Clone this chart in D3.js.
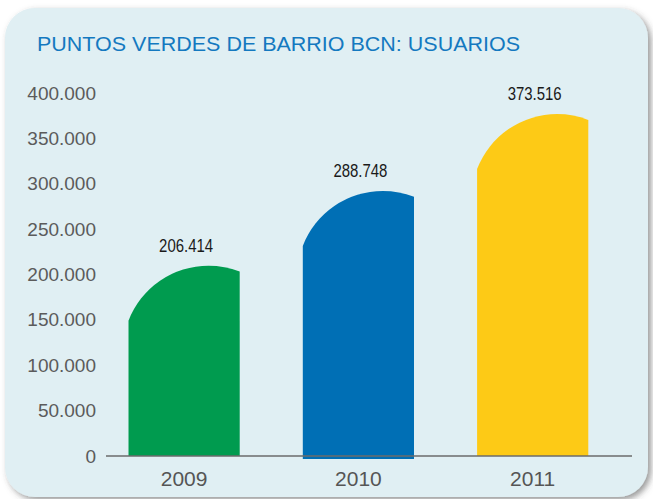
<!DOCTYPE html>
<html>
<head>
<meta charset="utf-8">
<script src="https://cdn.jsdelivr.net/npm/d3@7"></script>
<style>
  html, body { margin: 0; padding: 0; background: #fff; }
  svg { display: block; }
</style>
</head>
<body>
<div id="chart"></div>
<script>
// datos
const years = ['2009', '2010', '2011']
const usuarios = [206414, 288748, 373516]
const valueLabels = ['206.414', '288.748', '373.516']
const barColors = ['#009b4f', '#006fb5', '#fdca16']
const yTicks = [0, 50000, 100000, 150000, 200000, 250000, 300000, 350000, 400000]
const titleText = 'PUNTOS VERDES DE BARRIO BCN: USUARIOS'

const W = 653
const H = 499

const svg = d3.select('#chart')
  .append('svg')
  .attr('width', W)
  .attr('height', H)

// sombra del panel
const defs = svg.append('defs')
const f = defs.append('filter')
  .attr('id', 'shadow')
  .attr('x', '-5%').attr('y', '-5%')
  .attr('width', '110%').attr('height', '110%')
f.append('feDropShadow')
  .attr('dx', 3).attr('dy', 3)
  .attr('stdDeviation', 3)
  .attr('flood-color', '#444')
  .attr('flood-opacity', 0.55)

svg.append('rect')
  .attr('x', 5)
  .attr('y', 8)
  .attr('width', 643)
  .attr('height', 489)
  .attr('rx', 30)
  .attr('fill', '#e0eff3')
  .attr('filter', 'url(#shadow)')

// título (tipografía estrecha)
svg.append('text')
  .attr('x', 37)
  .attr('y', 51)
  .attr('fill', '#1479c0')
  .attr('textLength', 483)
  .attr('lengthAdjust', 'spacingAndGlyphs')
  .style('font-family', 'Liberation Sans, Arial, sans-serif')
  .style('font-size', '21px')
  .text(titleText)

// escalas
const y = d3.scaleLinear()
  .domain([0, 400000])
  .range([456, 93])

const x = d3.scaleBand()
  .domain(years)
  .range([95.4, 621.4])
  .paddingInner(0.362)
  .paddingOuter(0.19)

const fmt = d => d === 0 ? '0' : d3.format(',')(d).replace(/,/g, '.')

// eje Y (solo etiquetas)
const yAxis = svg.append('g')
  .attr('transform', 'translate(96,0)')
  .call(d3.axisLeft(y).tickValues(yTicks).tickFormat(fmt).tickSize(0).tickPadding(0))
yAxis.select('.domain').remove()
yAxis.selectAll('text')
  .attr('fill', '#5b5b5b')
  .style('font-family', 'Liberation Sans, Arial, sans-serif')
  .style('font-size', '19px')

// barras con tapa curva
const capDrop = 55
const bars = svg.append('g')
years.forEach((yr, i) => {
  const x0 = x(yr)
  const w = x.bandwidth()
  const x1 = x0 + w
  const xp = x0 + w * 0.72
  const yp = y(usuarios[i]) - 3
  const yl = yp + capDrop
  const dx = xp - x0
  const R = (dx * dx + capDrop * capDrop) / (2 * capDrop)
  const dr = x1 - xp
  const yRight = yp + R - Math.sqrt(R * R - dr * dr)
  const base = y(0) + (i === 1 ? 3 : 0)
  const p = `M${x0},${base} L${x0},${yl} A${R},${R} 0 0 1 ${xp},${yp} A${R},${R} 0 0 1 ${x1},${yRight} L${x1},${base} Z`
  bars.append('path')
    .attr('d', p)
    .attr('fill', barColors[i])

  const cx = x0 + w / 2 + 2
  svg.append('text')
    .attr('x', cx - 27)
    .attr('y', yp - 14)
    .attr('textLength', 54)
    .attr('lengthAdjust', 'spacingAndGlyphs')
    .attr('fill', '#1a1a1a')
    .style('font-family', 'Liberation Sans, Arial, sans-serif')
    .style('font-size', '18px')
    .text(valueLabels[i])
})

// eje X
const xAxis = svg.append('g')
  .attr('transform', 'translate(0,456)')
  .call(d3.axisBottom(x).tickSize(0).tickPadding(15))
xAxis.select('.domain').remove()
xAxis.selectAll('text')
  .attr('fill', '#555')
  .style('font-family', 'Liberation Sans, Arial, sans-serif')
  .style('font-size', '21px')

svg.append('line')
  .attr('x1', 106).attr('x2', 632)
  .attr('y1', y(0)).attr('y2', y(0))
  .attr('stroke', '#6b6b6b')
  .attr('stroke-width', 1.5)
</script>
</body>
</html>
